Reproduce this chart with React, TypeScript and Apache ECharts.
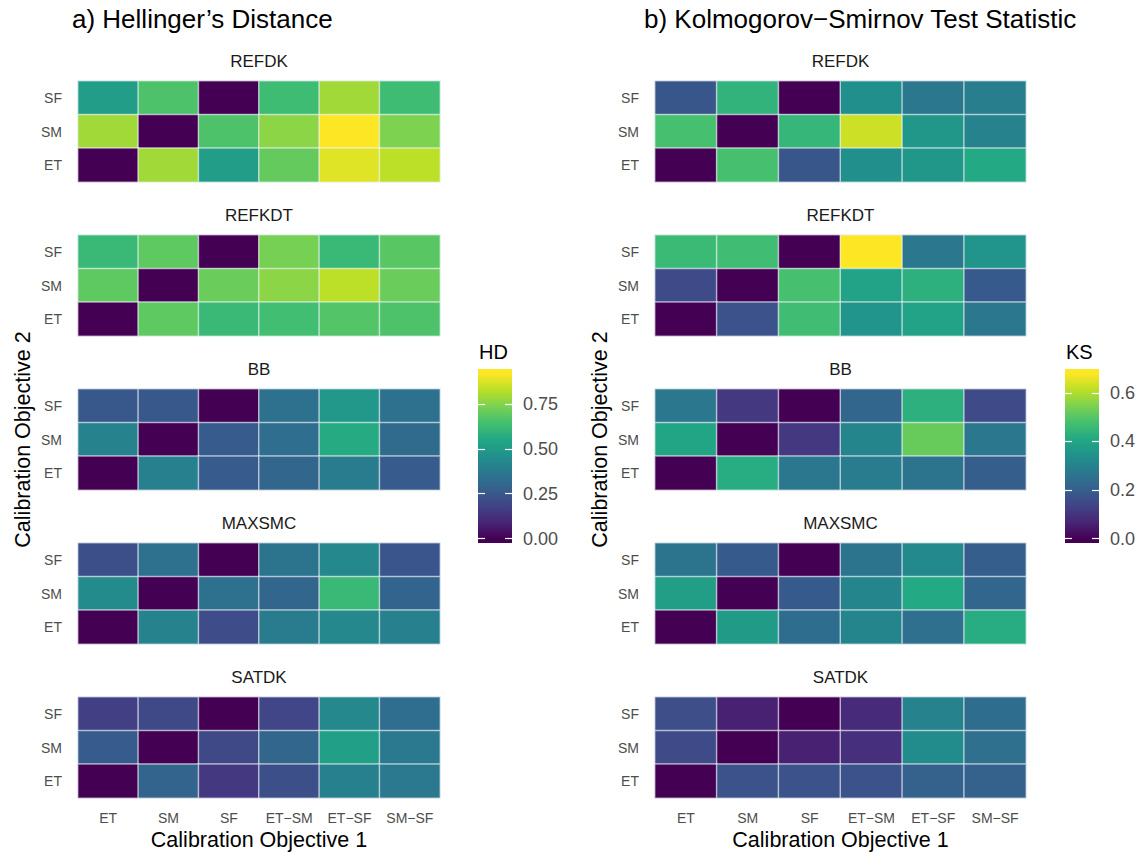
import React, { useEffect, useRef } from "react";
import * as echarts from "echarts";

// Axis categories
const objective1 = ["ET", "SM", "SF", "ET\u2212SM", "ET\u2212SF", "SM\u2212SF"];
const objective2 = ["SF", "SM", "ET"]; // top to bottom
const parameters = ["REFDK", "REFKDT", "BB", "MAXSMC", "SATDK"];

// Hellinger's distance, rows SF / SM / ET, columns follow objective1
const hdREFDK = [
  [0.51, 0.66, 0.0, 0.63, 0.79, 0.63],
  [0.79, 0.0, 0.66, 0.76, 0.92, 0.74],
  [0.0, 0.79, 0.51, 0.70, 0.88, 0.83],
];
const hdREFKDT = [
  [0.62, 0.69, 0.0, 0.73, 0.62, 0.68],
  [0.69, 0.0, 0.71, 0.76, 0.83, 0.71],
  [0.0, 0.69, 0.62, 0.64, 0.67, 0.66],
];
const hdBB = [
  [0.25, 0.25, 0.0, 0.34, 0.49, 0.34],
  [0.41, 0.0, 0.26, 0.33, 0.56, 0.32],
  [0.0, 0.40, 0.26, 0.30, 0.38, 0.26],
];
const hdMAXSMC = [
  [0.22, 0.34, 0.0, 0.35, 0.43, 0.24],
  [0.44, 0.0, 0.34, 0.30, 0.62, 0.29],
  [0.0, 0.41, 0.21, 0.38, 0.43, 0.40],
];
const hdSATDK = [
  [0.17, 0.20, 0.0, 0.19, 0.43, 0.33],
  [0.26, 0.0, 0.20, 0.30, 0.52, 0.37],
  [0.0, 0.29, 0.15, 0.22, 0.40, 0.37],
];

// Kolmogorov-Smirnov statistic, same layout
const ksREFDK = [
  [0.18, 0.44, 0.0, 0.34, 0.27, 0.29],
  [0.48, 0.0, 0.45, 0.63, 0.36, 0.30],
  [0.0, 0.48, 0.18, 0.34, 0.36, 0.41],
];
const ksREFKDT = [
  [0.46, 0.47, 0.0, 0.68, 0.27, 0.35],
  [0.15, 0.0, 0.48, 0.39, 0.43, 0.19],
  [0.0, 0.17, 0.47, 0.35, 0.39, 0.27],
];
const ksBB = [
  [0.27, 0.11, 0.0, 0.22, 0.43, 0.15],
  [0.40, 0.0, 0.11, 0.31, 0.52, 0.27],
  [0.0, 0.42, 0.27, 0.28, 0.26, 0.20],
];
const ksMAXSMC = [
  [0.26, 0.19, 0.0, 0.26, 0.32, 0.20],
  [0.38, 0.0, 0.19, 0.31, 0.41, 0.22],
  [0.0, 0.37, 0.24, 0.31, 0.25, 0.42],
];
const ksSATDK = [
  [0.16, 0.06, 0.0, 0.08, 0.30, 0.24],
  [0.15, 0.0, 0.06, 0.09, 0.33, 0.25],
  [0.0, 0.17, 0.17, 0.17, 0.21, 0.21],
];

// Colour-bar scale limits and tick labels
const hdMax = 0.92;
const ksMax = 0.68;
const hdTicks = [0, 0.25, 0.5, 0.75];
const ksTicks = [0, 0.2, 0.4, 0.6];

const viridis = [
  "#440154", "#482576", "#414487", "#35608D", "#2A788E", "#21908C",
  "#22A884", "#43BF71", "#7AD151", "#BBDF27", "#FDE725",
];

const FONT = "'Liberation Sans', Arial, Helvetica, sans-serif";
const GRID_TOP = 81;
const GRID_STEP = 154;
const GRID_H = 101;
const BAR_TOP = 369;
const BAR_H = 174;
const BAR_W = 34;
const BAR_BINS = 20;

const sides = [
  {
    title: "a) Hellinger\u2019s Distance",
    titleX: 72,
    legend: "HD",
    gridLeft: 78,
    gridWidth: 362,
    barLeft: 478,
    blocks: [hdREFDK, hdREFKDT, hdBB, hdMAXSMC, hdSATDK],
    max: hdMax,
    ticks: hdTicks,
    digits: 2,
  },
  {
    title: "b) Kolmogorov\u2212Smirnov Test Statistic",
    titleX: 644,
    legend: "KS",
    gridLeft: 655,
    gridWidth: 371,
    barLeft: 1065,
    blocks: [ksREFDK, ksREFKDT, ksBB, ksMAXSMC, ksSATDK],
    max: ksMax,
    ticks: ksTicks,
    digits: 1,
  },
];

function buildOption() {
  const grid: any[] = [];
  const xAxis: any[] = [];
  const yAxis: any[] = [];
  const series: any[] = [];
  const visualMap: any[] = [];
  const graphic: any[] = [];

  sides.forEach((side) => {
    const seriesIdx: number[] = [];
    side.blocks.forEach((rows, i) => {
      const g = grid.length;
      const xi = xAxis.length;
      const yi = yAxis.length;
      const top = GRID_TOP + GRID_STEP * i;
      grid.push({ left: side.gridLeft, top, width: side.gridWidth, height: GRID_H });
      xAxis.push({
        gridIndex: g,
        type: "category",
        data: objective1,
        axisLine: { show: false },
        axisTick: { show: false },
        splitLine: { show: false },
        axisLabel: {
          show: i === side.blocks.length - 1,
          color: "#4d4d4d",
          fontSize: 14,
          fontFamily: FONT,
          margin: 13,
          interval: 0,
        },
      });
      yAxis.push({
        gridIndex: g,
        type: "category",
        data: objective2,
        inverse: true,
        axisLine: { show: false },
        axisTick: { show: false },
        splitLine: { show: false },
        axisLabel: { color: "#4d4d4d", fontSize: 14, fontFamily: FONT, margin: 16 },
      });
      const data: number[][] = [];
      rows.forEach((row, r) => row.forEach((v, c) => data.push([c, r, v])));
      seriesIdx.push(series.length);
      series.push({
        type: "heatmap",
        name: parameters[i],
        xAxisIndex: xi,
        yAxisIndex: yi,
        data,
        itemStyle: { borderColor: "rgba(240,244,248,0.6)", borderWidth: 1.5 },
        emphasis: { disabled: true },
      });
      graphic.push({
        type: "text",
        x: side.gridLeft + side.gridWidth / 2,
        y: top - 20,
        style: {
          text: parameters[i],
          font: `17px ${FONT}`,
          fill: "#1a1a1a",
          align: "center",
          verticalAlign: "middle",
          textAlign: "center",
          textVerticalAlign: "middle",
        },
      });
    });

    visualMap.push({
      type: "continuous",
      show: false,
      seriesIndex: seriesIdx,
      dimension: 2,
      min: 0,
      max: side.max,
      inRange: { color: viridis },
    });

    // Colour bar: its own grid whose value axis spans half a bin past the data range
    const pad = side.max / (BAR_BINS - 1) / 2;
    const barMin = -pad;
    const barMax = side.max + pad;
    const g = grid.length;
    const xi = xAxis.length;
    grid.push({ left: side.barLeft, top: BAR_TOP, width: BAR_W, height: BAR_H });
    xAxis.push({ gridIndex: g, type: "value", min: 0, max: 1, show: false });
    const tickStyle = {
      show: true,
      inside: true,
      length: 7,
      lineStyle: { color: "#ffffff", width: 1.2 },
      customValues: side.ticks,
    };
    const yLeft = yAxis.length;
    yAxis.push({
      gridIndex: g,
      type: "value",
      min: barMin,
      max: barMax,
      position: "left",
      z: 10,
      axisLine: { show: false },
      splitLine: { show: false },
      axisTick: tickStyle,
      axisLabel: { show: false },
    });
    yAxis.push({
      gridIndex: g,
      type: "value",
      min: barMin,
      max: barMax,
      position: "right",
      z: 10,
      axisLine: { show: false },
      splitLine: { show: false },
      axisTick: tickStyle,
      axisLabel: {
        show: true,
        customValues: side.ticks,
        formatter: (v: number) => v.toFixed(side.digits),
        color: "#4d4d4d",
        fontSize: 18,
        fontFamily: FONT,
        margin: 11,
      },
    });
    const stops = viridis.map((color, k) => ({
      offset: ((k / (viridis.length - 1)) * side.max - barMin) / (barMax - barMin),
      color,
    }));
    series.push({
      type: "custom",
      xAxisIndex: xi,
      yAxisIndex: yLeft,
      data: [[0, barMin, 1, barMax]],
      silent: true,
      renderItem: (_params: any, api: any) => {
        const p0 = api.coord([api.value(0), api.value(1)]);
        const p1 = api.coord([api.value(2), api.value(3)]);
        return {
          type: "rect",
          shape: { x: p0[0], y: p1[1], width: p1[0] - p0[0], height: p0[1] - p1[1] },
          style: { fill: new echarts.graphic.LinearGradient(0, 1, 0, 0, stops) },
        };
      },
    });

    graphic.push({
      type: "text",
      x: side.titleX,
      y: 19,
      style: {
        text: side.title,
        font: `26px ${FONT}`,
        fill: "#000000",
        align: "left",
        verticalAlign: "middle",
        textAlign: "left",
        textVerticalAlign: "middle",
      },
    });
    graphic.push({
      type: "text",
      x: side.gridLeft + side.gridWidth / 2,
      y: 840,
      style: {
        text: "Calibration Objective 1",
        font: `21.5px ${FONT}`,
        fill: "#000000",
        align: "center",
        verticalAlign: "middle",
        textAlign: "center",
        textVerticalAlign: "middle",
      },
    });
    graphic.push({
      type: "text",
      x: side.gridLeft - 55,
      y: GRID_TOP + (GRID_STEP * 4 + GRID_H) / 2,
      rotation: Math.PI / 2,
      style: {
        text: "Calibration Objective 2",
        font: `21.5px ${FONT}`,
        fill: "#000000",
        align: "center",
        verticalAlign: "middle",
        textAlign: "center",
        textVerticalAlign: "middle",
      },
    });
    graphic.push({
      type: "text",
      x: side.barLeft + 1,
      y: 352,
      style: {
        text: side.legend,
        font: `20px ${FONT}`,
        fill: "#000000",
        align: "left",
        verticalAlign: "middle",
        textAlign: "left",
        textVerticalAlign: "middle",
      },
    });
  });

  return {
    animation: false,
    backgroundColor: "#ffffff",
    textStyle: { fontFamily: FONT },
    grid,
    xAxis,
    yAxis,
    visualMap,
    series,
    graphic,
  };
}

export default function App() {
  const ref = useRef<HTMLDivElement>(null);
  useEffect(() => {
    if (!ref.current) return;
    const chart = echarts.init(ref.current, undefined, { renderer: "svg" });
    chart.setOption(buildOption());
    return () => chart.dispose();
  }, []);
  return (
    <div
      ref={ref}
      style={{ position: "fixed", left: 0, top: 0, width: 1140, height: 853, background: "#fff" }}
    />
  );
}
